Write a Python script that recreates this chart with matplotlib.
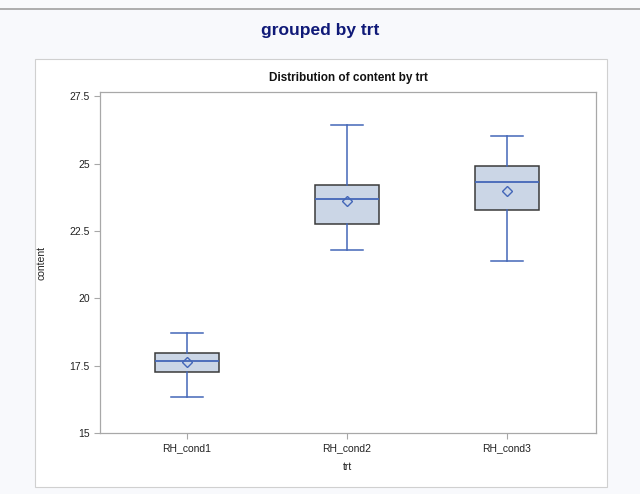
import matplotlib
matplotlib.use("Agg")
import matplotlib.pyplot as plt
from matplotlib.patches import Rectangle
from matplotlib.lines import Line2D

plt.rcParams['font.family'] = ['Liberation Sans', 'DejaVu Sans']

groups = ['RH_cond1', 'RH_cond2', 'RH_cond3']
whislo = [16.33, 21.80, 21.39]
q1 = [17.26, 22.75, 23.29]
med = [17.66, 23.67, 24.33]
mean = [17.62, 23.62, 24.00]
q3 = [17.97, 24.21, 24.92]
whishi = [18.73, 26.44, 26.02]
yticks = [15, 17.5, 20, 22.5, 25, 27.5]
ytick_labels = ['15', '17.5', '20', '22.5', '25', '27.5']

stats = []
for i in range(len(groups)):
    stats.append(dict(label=groups[i], whislo=whislo[i], q1=q1[i], med=med[i],
                      mean=mean[i], q3=q3[i], whishi=whishi[i], fliers=[]))

fig = plt.figure(figsize=(6.4, 4.94), dpi=100)
fig.patch.set_facecolor('#f8f9fc')

# top rule and white panel
fig.add_artist(Line2D([0, 1], [1 - 9/494, 1 - 9/494], color='#a0a0a0', lw=1.2))
fig.add_artist(Rectangle((35/640, 1 - 487/494), 572/640, 428/494,
                         facecolor='white', edgecolor='#d0d0d0', lw=0.8,
                         transform=fig.transFigure, zorder=0))

fig.text(0.5, 1 - 30/494, 'grouped by trt', ha='center', va='center',
         fontsize=12.5, fontweight='bold', color='#101a78')

ax = fig.add_axes([100/640, 1 - 433/494, 496/640, 341/494])
ax.bxp(stats, positions=[1, 2, 3], widths=0.4, showmeans=True, patch_artist=True,
       boxprops=dict(facecolor='#cbd6e6', edgecolor='#3a3a3a', lw=1.1),
       medianprops=dict(color='#4467b8', lw=1.3),
       whiskerprops=dict(color='#4467b8', lw=1.1),
       capprops=dict(color='#4467b8', lw=1.1),
       capwidths=0.2,
       meanprops=dict(marker='D', markersize=5, markerfacecolor='none',
                      markeredgecolor='#4467b8', markeredgewidth=1.0))

ax.set_xlim(0.456, 3.556)
ax.set_ylim(15, 27.66)
ax.set_yticks(yticks)
ax.set_yticklabels(ytick_labels)
ax.set_xticks([1, 2, 3])
ax.set_xticklabels(groups)
for s in ax.spines.values():
    s.set_color('#a8a8a8')
    s.set_linewidth(0.9)
ax.tick_params(colors='#a8a8a8', labelcolor='#222222', labelsize=7.5, length=4, width=0.8)
ax.set_xlabel('trt', fontsize=7.5, color='#222222', labelpad=6)
ax.set_ylabel('content', fontsize=7.5, color='#222222', labelpad=16)
ax.set_title('Distribution of content by trt', fontsize=8.5, fontweight='bold',
             color='#111111', pad=8)

fig.savefig('out.png', dpi=100, facecolor=fig.get_facecolor())
